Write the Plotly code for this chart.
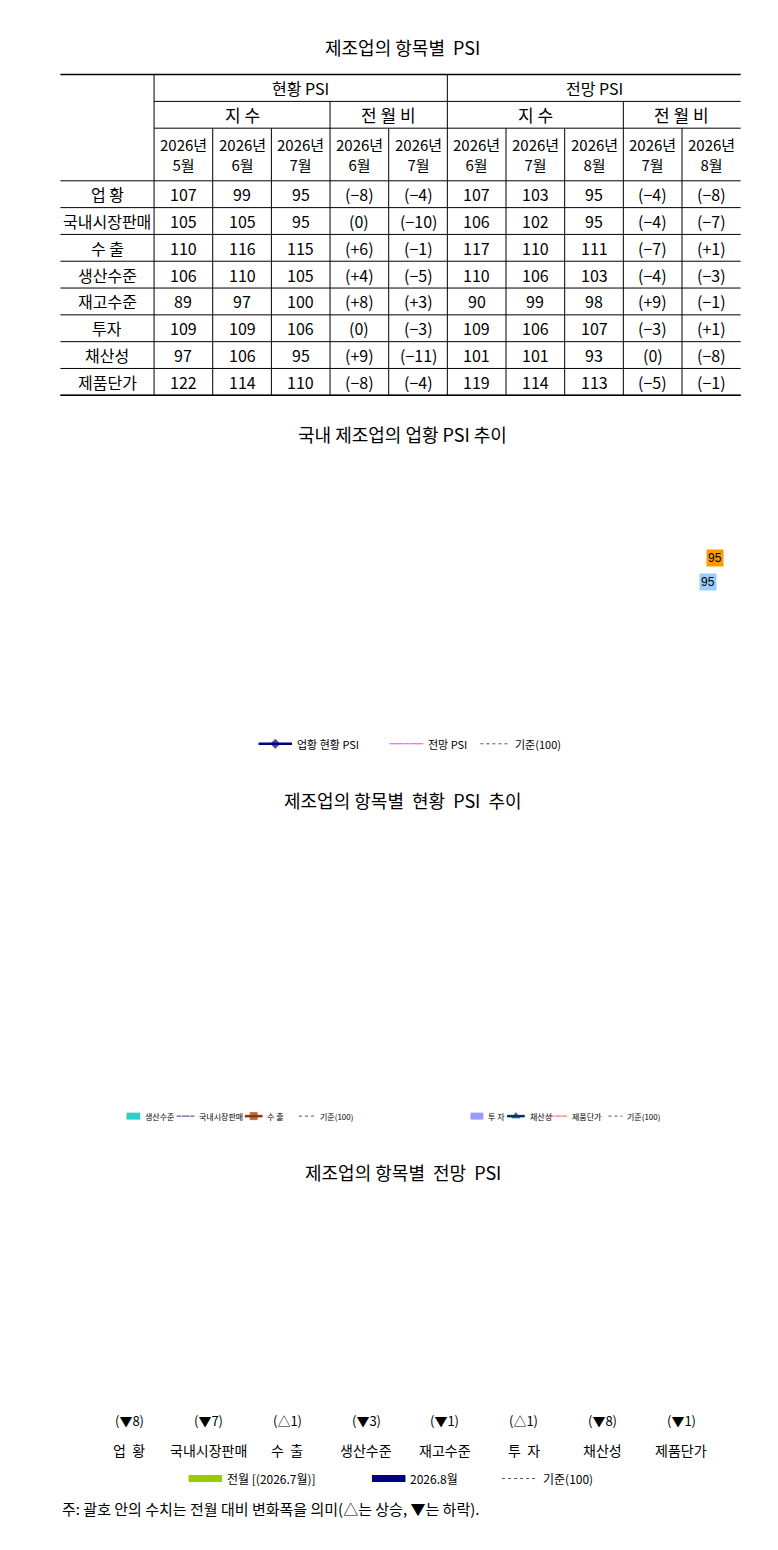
import plotly.graph_objects as go

W, H = 778, 1550
FONT = "Noto Sans CJK KR"

# ---- table data ----
items = ["업 황", "국내시장판매", "수 출", "생산수준", "재고수준", "투자", "채산성", "제품단가"]
col_heads = ["2026년<br>5월", "2026년<br>6월", "2026년<br>7월", "2026년<br>6월", "2026년<br>7월",
             "2026년<br>6월", "2026년<br>7월", "2026년<br>8월", "2026년<br>7월", "2026년<br>8월"]
cur_may = [107, 105, 110, 106, 89, 109, 97, 122]
cur_jun = [99, 105, 116, 110, 97, 109, 106, 114]
cur_jul = [95, 95, 115, 105, 100, 106, 95, 110]
cur_chg_jun = ["(−8)", "(0)", "(+6)", "(+4)", "(+8)", "(0)", "(+9)", "(−8)"]
cur_chg_jul = ["(−4)", "(−10)", "(−1)", "(−5)", "(+3)", "(−3)", "(−11)", "(−4)"]
out_jun = [107, 106, 117, 110, 90, 109, 101, 119]
out_jul = [103, 102, 110, 106, 99, 106, 101, 114]
out_aug = [95, 95, 111, 103, 98, 107, 93, 113]
out_chg_jul = ["(−4)", "(−4)", "(−7)", "(−4)", "(+9)", "(−3)", "(0)", "(−5)"]
out_chg_aug = [-8, -7, 1, -3, -1, 1, -8, -1]

# ---- long-run business condition PSI ----
now_psi = [88, 88, 115, 115, 96, 96, 89, 89, 105, 109, 96, 103,
           108, 60, 42, 47, 76, 113, 116, 117, 117, 122, 133, 120,
           123, 123, 143, 129, 127, 124, 114, 110, 107, 100, 94, 91,
           94, 96, 88, 102, 91, 77, 73, 77, 87, 80, 76, 78,
           82, 91, 104, 95, 99, 102, 99, 101, 104, 102, 106, 101,
           102, 105, 114, 109, 117, 109, 112, 101, 100, 105, 101, 80,
           88, 94, 107, 80, 95, 98, 101, 103, 107, 104, 110, 103,
           103, 103, 96, 95, 107, 99, 95]
fcst_psi = [87, 95, 125, 126, 118, 107, 97, 96, 100, 110, 110, 97,
            109, 122, 97, 50, 66, 95, 117, 117, 122, 114, 119, 122,
            118, 130, 137, 136, 125, 133, 130, 113, 116, 112, 99, 87,
            91, 107, 110, 93, 104, 94, 78, 75, 86, 91, 70, 77,
            77, 91, 102, 94, 101, 104, 104, 112, 110, 110, 97, 100,
            109, 104, 119, 114, 113, 111, 110, 104, 103, 102, 96, 75,
            97, 102, 99, 73, 94, 103, 104, 103, 103, 104, 110, 105,
            114, 117, 88, 96, 107, 96, 107, 95]
BASE = 100

def month_list(n):
    out = []
    for i in range(n):
        y, m = 2019 + i // 12, i % 12 + 1
        out.append(f"{y}-{m:02d}-01")
    return out

# ---- recent 13 months ----
months = ["25.07", "25.08", "25.09", "25.10", "25.11", "25.12", "26.01",
          "26.02", "26.03", "26.04", "26.05", "26.06", "26.07"]
prod = [101, 99, 105, 97, 107, 103, 102, 106, 109, 91, 106, 110, 105]
dom_sales = [105, 99, 107, 99, 106, 105, 96, 99, 106, 94, 106, 105, 95]
export = [102, 93, 103, 103, 109, 102, 103, 107, 105, 92, 110, 116, 115]
invest = [101, 101, 102, 101, 107, 102, 105, 108, 108, 93, 109, 109, 106]
profit = [101, 101, 105, 105, 107, 102, 102, 101, 94, 87, 97, 106, 95]
price = [108, 108, 109, 103, 108, 106, 115, 114, 120, 126, 123, 114, 110]

# ---- outlook by item ----
cats = ["업  황", "국내시장판매", "수  출", "생산수준", "재고수준", "투  자", "채산성", "제품단가"]
prev_out = out_jul
this_out = out_aug


def fx(x):
    return x / W


def fy(y):
    return 1 - y / H


fig = go.Figure()
shapes, ann = [], []


def text(x, y, s, size=15, color="black", xanchor="center", **kw):
    ann.append(dict(x=fx(x), y=fy(y), xref="paper", yref="paper", text=s, showarrow=False,
                    font=dict(family=FONT, size=size, color=color), xanchor=xanchor,
                    yanchor="middle", **kw))


def line(x0, y0, x1, y1, color="black", width=1, dash="solid"):
    shapes.append(dict(type="line", xref="paper", yref="paper", x0=fx(x0), y0=fy(y0),
                       x1=fx(x1), y1=fy(y1), line=dict(color=color, width=width, dash=dash)))


def rect(x0, y0, x1, y1, fill=None, color="black", width=1, layer="below"):
    shapes.append(dict(type="rect", xref="paper", yref="paper", x0=fx(x0), y0=fy(y0),
                       x1=fx(x1), y1=fy(y1), fillcolor=fill or "rgba(0,0,0,0)",
                       line=dict(color=color, width=width), layer=layer))


def legend_box(x0, x1, yc, h, entries, size):
    # hand-drawn legend: entries are (kind, color, symbol, x_start, sample_len, label)
    rect(x0, yc - h / 2, x1, yc + h / 2, fill="white", width=1)
    for kind, color, sym, xs, ln, label in entries:
        if kind == "bar":
            rect(xs, yc - 3.5, xs + ln, yc + 3.5, fill=color, width=0, layer="above")
        elif kind == "dot":
            line(xs, yc, xs + ln, yc, color="#555555", width=1, dash="dot")
        else:
            wid = 2.5 if kind == "thick" else 1
            fig.add_trace(go.Scatter(x=[xs, xs + ln / 2, xs + ln], y=[yc, yc, yc], mode="lines+markers",
                                     line=dict(color=color, width=wid),
                                     marker=dict(symbol=sym, size=[0, 7, 0], color=color
                                                 if not sym.endswith("open") else "white",
                                                 line=dict(color=color, width=1)),
                                     xaxis="x5", yaxis="y5", showlegend=False, hoverinfo="skip"))
        text(xs + ln + 3, yc, label, size=size, xanchor="left")


# ================= table =================
text(389, 33, "제조업의 항목별  PSI", size=18)
TX0, TX1 = 42, 732
cx = [137 + 59.5 * i for i in range(11)]
ry = [61, 88, 115, 168] + [168 + 27 * (i + 1) for i in range(8)]
GRAY = "#DCDCDC"
rect(TX0, ry[0], TX1, ry[3], fill=GRAY, width=0)
for c in (2, 4, 7, 9):
    rect(cx[c], ry[3], cx[c + 1], ry[-1], fill=GRAY, width=0)
line(TX0, ry[0], TX1, ry[0], width=1.5)
line(cx[0], ry[1], TX1, ry[1])
line(cx[0], ry[2], TX1, ry[2])
for y in ry[3:]:
    line(TX0, y, TX1, y)
line(TX0, ry[-1], TX1, ry[-1], width=1.5)
for i, x in enumerate(cx[:-1]):
    top = ry[0] if i in (0, 5) else (ry[1] if i in (3, 8) else ry[2])
    line(x, top, x, ry[-1])
text((cx[0] + cx[5]) / 2, (ry[0] + ry[1]) / 2, "현황 PSI", size=16)
text((cx[5] + cx[10]) / 2, (ry[0] + ry[1]) / 2, "전망 PSI", size=16)
for a, b, s in ((0, 3, "지 수"), (3, 5, "전 월 비"), (5, 8, "지 수"), (8, 10, "전 월 비")):
    text((cx[a] + cx[b]) / 2, (ry[1] + ry[2]) / 2, s, size=17)
for i, h in enumerate(col_heads):
    text((cx[i] + cx[i + 1]) / 2, (ry[2] + ry[3]) / 2, h, size=15)
cols = [cur_may, cur_jun, cur_jul, cur_chg_jun, cur_chg_jul, out_jun, out_jul, out_aug,
        out_chg_jul, ["(+%d)" % v if v > 0 else ("(−%d)" % -v if v < 0 else "(0)") for v in out_chg_aug]]
for r, name in enumerate(items):
    yc = (ry[3 + r] + ry[4 + r]) / 2
    text((TX0 + cx[0]) / 2, yc, name, size=16)
    for c, col in enumerate(cols):
        text((cx[c] + cx[c + 1]) / 2, yc, str(col[r]), size=16)

# ================= long-run line chart =================
text(389, 423, "국내 제조업의 업황 PSI 추이", size=18)
now_x = month_list(len(now_psi))
fc_x = month_list(len(fcst_psi))
XR = ["2019-01-01", "2026-08-20"]
fig.add_trace(go.Scatter(x=now_x, y=now_psi, name="업황 현황 PSI", mode="lines+markers",
                         line=dict(color="#000080", width=2.5), marker=dict(size=5, color="#000080"),
                         xaxis="x", yaxis="y"))
fig.add_trace(go.Scatter(x=fc_x, y=fcst_psi, name="전망 PSI", mode="lines+markers",
                         line=dict(color="#FF33FF", width=1),
                         marker=dict(size=7, symbol="circle-open", color="#FF33FF"),
                         xaxis="x", yaxis="y"))
fig.add_trace(go.Scatter(x=XR, y=[BASE, BASE], name="기준(100)", mode="lines",
                         line=dict(color="gray", width=1, dash="dot"), xaxis="x", yaxis="y"))
ann.append(dict(x=fc_x[-1], y=fcst_psi[-1] + 6, xref="x", yref="y", text=str(fcst_psi[-1]),
                showarrow=False, bgcolor="#FF9900", font=dict(size=12, color="black", family="Arial"),
                xanchor="left", xshift=-4))
ann.append(dict(x=now_x[-1], y=now_psi[-1] - 11, xref="x", yref="y", text=str(now_psi[-1]),
                showarrow=False, bgcolor="#99CCFF", font=dict(size=12, color="black", family="Arial"),
                xanchor="left", xshift=-4))
legend_box(236, 571, 735, 20, [
    ("thick", "#000080", "diamond", 243, 34, "업황 현황 PSI"),
    ("line", "#FF33FF", "circle-open", 376, 34, "전망 PSI"),
    ("dot", None, None, 468, 30, "기준(100)"),
], 11)

# ================= recent item charts =================
text(389, 792, "제조업의 항목별  현황  PSI  추이", size=18)
xi = list(range(len(months)))
fig.add_trace(go.Bar(x=xi, y=prod, name="생산수준", marker_color="#33CCCC", width=0.58,
                     xaxis="x2", yaxis="y2"))
fig.add_trace(go.Scatter(x=xi, y=dom_sales, name="국내시장판매", mode="lines+markers",
                         line=dict(color="#333399", width=1, shape="spline"),
                         marker=dict(symbol="diamond", size=8, color="white",
                                     line=dict(color="#333399", width=1)),
                         xaxis="x2", yaxis="y2"))
fig.add_trace(go.Scatter(x=xi, y=export, name="수 출", mode="lines+markers",
                         line=dict(color="#993300", width=2.5, shape="spline"),
                         marker=dict(symbol="square", size=6, color="#993300"),
                         xaxis="x2", yaxis="y2"))
fig.add_trace(go.Scatter(x=[-0.5, len(months) - 0.5], y=[BASE, BASE], name="기준(100)", mode="lines",
                         line=dict(color="gray", width=1, dash="dot"), xaxis="x2", yaxis="y2"))

fig.add_trace(go.Bar(x=xi, y=invest, name="투 자", marker_color="#9999FF", width=0.58,
                     xaxis="x3", yaxis="y3"))
fig.add_trace(go.Scatter(x=xi, y=profit, name="채산성", mode="lines+markers",
                         line=dict(color="#003366", width=2, shape="spline"),
                         marker=dict(symbol="triangle-up", size=8, color="#003366"),
                         xaxis="x3", yaxis="y3"))
fig.add_trace(go.Scatter(x=xi, y=price, name="제품단가", mode="lines+markers",
                         line=dict(color="#FF5050", width=1),
                         marker=dict(symbol="circle", size=8, color="white",
                                     line=dict(color="#FF5050", width=1)),
                         xaxis="x3", yaxis="y3"))
fig.add_trace(go.Scatter(x=[-0.5, len(months) - 0.5], y=[BASE, BASE], name="기준(100)", mode="lines",
                         line=dict(color="gray", width=1, dash="dot"), xaxis="x3", yaxis="y3"))
legend_box(103, 368, 1110, 16, [
    ("bar", "#33CCCC", None, 109, 14, "생산수준"),
    ("line", "#333399", "diamond-open", 160, 18, "국내시장판매"),
    ("thick", "#993300", "square", 229, 18, "수 출"),
    ("dot", None, None, 284, 16, "기준(100)"),
], 8)
legend_box(453, 666, 1110, 16, [
    ("bar", "#9999FF", None, 458, 13, "투 자"),
    ("thick", "#003366", "triangle-up", 495, 18, "채산성"),
    ("line", "#FF5050", "circle-open", 538, 18, "제품단가"),
    ("dot", None, None, 598, 14, "기준(100)"),
], 8)

# ================= outlook by item =================
text(389, 1166, "제조업의 항목별  전망  PSI", size=18)
ci = list(range(len(cats)))
fig.add_trace(go.Bar(x=ci, y=prev_out, name="전월 [(2026.7월)]", marker_color="#99CC00",
                     text=prev_out, textposition="inside", insidetextanchor="start", textangle=0,
                     textfont=dict(size=10, color="black", family="Arial"),
                     xaxis="x4", yaxis="y4"))
fig.add_trace(go.Bar(x=ci, y=this_out, name="2026.8월", marker_color="#000080",
                     text=["<b>%d</b>" % v for v in this_out], textposition="outside", textangle=0,
                     textfont=dict(size=13, color="black", family="DejaVu Sans"),
                     xaxis="x4", yaxis="y4"))
fig.add_trace(go.Scatter(x=[-0.5, len(cats) - 0.5], y=[BASE, BASE], name="기준(100)", mode="lines",
                         line=dict(color="black", width=1, dash="dot"), xaxis="x4", yaxis="y4"))
rect(72, 1195, 712, 1405, color="#555555")
rect(72, 1405, 712, 1430, color="#555555")
for i, v in enumerate(out_chg_aug):
    mark = "△" if v > 0 else "▼"
    x = 72 + 80 * i + 40
    text(x, 1417, "(%s%d)" % (mark, abs(v)), size=13)
    text(x, 1446, cats[i], size=14)
legend_box(148, 622, 1475, 18, [
    ("bar", "#99CC00", None, 172, 34, "전월 [(2026.7월)]"),
    ("bar", "#000080", None, 358, 34, "2026.8월"),
    ("dot", None, None, 490, 36, "기준(100)"),
], 12)
text(42, 1505, "주: 괄호 안의 수치는 전월 대비 변화폭을 의미(△는 상승, ▼는 하락).", size=15,
     xanchor="left")

ax_font = dict(family="Arial", size=10, color="black")
small_font = dict(family="Arial", size=8, color="black")
frame = dict(showline=True, mirror=True, linecolor="#888888", showgrid=False, zeroline=False)

fig.update_layout(
    width=W, height=H, margin=dict(l=0, r=0, t=0, b=0),
    paper_bgcolor="white", plot_bgcolor="white", barmode="group",
    bargap=0.4, bargroupgap=0.0, showlegend=False,
    font=dict(family=FONT),
    shapes=shapes, annotations=ann,
    xaxis=dict(domain=[fx(100), fx(705)], range=XR, type="date",
               tickvals=["%d-01-01" % y for y in range(2019, 2027)],
               ticktext=[str(y) for y in range(2019, 2027)],
               ticks="outside", ticklen=5, tickfont=ax_font,
               minor=dict(dtick="M1", ticks="outside", ticklen=3, tickcolor="black"), **frame),
    yaxis=dict(domain=[fy(692), fy(463)], range=[0, 160], dtick=20, tickfont=ax_font,
               ticks="outside", ticklen=3, **frame),
    xaxis2=dict(domain=[fx(80), fx(364)], range=[-0.5, 12.5], tickvals=xi[::2],
                ticktext=months[::2], tickfont=small_font, anchor="y2", **frame),
    yaxis2=dict(domain=[fy(1068), fy(843)], range=[0, 140], dtick=20, tickfont=small_font,
                anchor="x2", **frame),
    xaxis3=dict(domain=[fx(420), fx(702)], range=[-0.5, 12.5], tickvals=xi[::2],
                ticktext=months[::2], tickfont=small_font, anchor="y3", **frame),
    yaxis3=dict(domain=[fy(1068), fy(843)], range=[0, 140], dtick=20, tickfont=small_font,
                anchor="x3", **frame),
    xaxis4=dict(domain=[fx(72), fx(712)], range=[-0.5, 7.5], visible=False, anchor="y4"),
    yaxis4=dict(domain=[fy(1405), fy(1195)], range=[0, 157], visible=False, anchor="x4"),
    xaxis5=dict(domain=[0, 1], range=[0, W], visible=False, anchor="y5"),
    yaxis5=dict(domain=[0, 1], range=[H, 0], visible=False, anchor="x5"),
)

fig.write_html("out.html")
